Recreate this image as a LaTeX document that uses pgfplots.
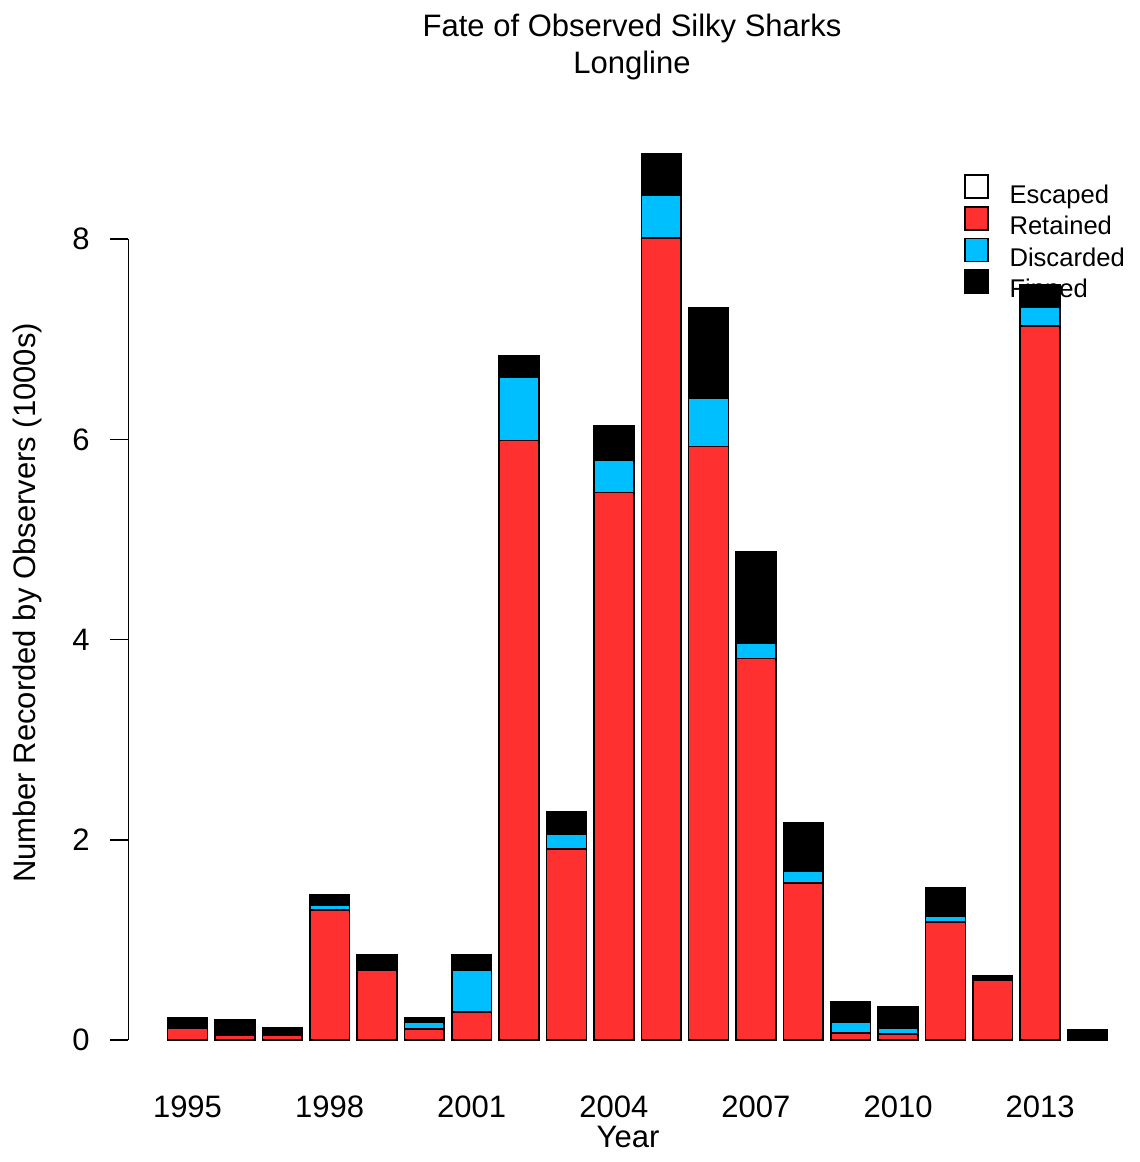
\documentclass[border=0pt]{standalone}
\usepackage{pgfplots}
\pgfplotsset{compat=1.18}
\usepackage{pgfplotstable}
\usepackage{fontspec}
\setmainfont{Liberation Sans}
\definecolor{ret}{HTML}{FF3030}
\definecolor{dis}{HTML}{00BFFF}
\pgfplotsset{
  layers/legendbehind/.define layer set={axis background,axis grid,axis ticks,axis lines,axis tick labels,axis descriptions,pre main,main,axis foreground}{},
}
\pgfplotstableread{
year ret dis fin
1995 0.12 0.00 0.10
1996 0.05 0.00 0.15
1997 0.05 0.00 0.07
1998 1.30 0.05 0.10
1999 0.70 0.00 0.15
2000 0.11 0.07 0.04
2001 0.28 0.42 0.15
2002 5.99 0.63 0.21
2003 1.91 0.15 0.22
2004 5.47 0.32 0.35
2005 8.01 0.43 0.41
2006 5.93 0.48 0.90
2007 3.81 0.15 0.92
2008 1.57 0.12 0.48
2009 0.07 0.11 0.20
2010 0.06 0.06 0.21
2011 1.18 0.06 0.28
2012 0.60 0.00 0.04
2013 7.13 0.19 0.22
2014 0.00 0.00 0.10
}\data
\begin{document}
\begin{tikzpicture}
\begin{axis}[
  set layers=legendbehind,
  scale only axis, width=506pt, height=478pt,
  xmin=1993.744, xmax=2015.108, ymin=-0.35, ymax=9.2,
  ybar stacked, bar width=0.84,
  axis line style={draw=none},
  xtick={1995,1998,2001,2004,2007,2010,2013},
  ytick={0,2,4,6,8},
  ytick pos=left, xtick pos=bottom,
  tick align=outside,
  major tick length=9pt,
  x tick style={draw=none},
  y tick style={black, line width=0.8pt},
  tick label style={font=\fontsize{15.5}{18}\selectfont},
  /pgf/number format/assume math mode=true,
  /pgf/number format/1000 sep={},
  xticklabel style={anchor=base, inner sep=0pt, yshift=-12pt},
  yticklabel style={anchor=east, inner sep=0pt, xshift=-10pt},
  legend style={at={(0.826,0.942)}, anchor=north west, draw=none, fill=none,
    inner sep=0pt, outer sep=0pt, row sep=-2pt,
    font=\fontsize{12.8}{15}\selectfont, cells={anchor=west},
    /tikz/every odd column/.append style={column sep=8.5pt}},
]
\addlegendimage{legend image code/.code={\draw[fill=white, draw=black, line width=0.8pt] (0pt,-1.5pt) rectangle (11.5pt,10pt);}}
\addlegendentry{Escaped}
\addlegendimage{legend image code/.code={\draw[fill=ret, draw=black, line width=0.8pt] (0pt,-1.5pt) rectangle (11.5pt,10pt);}}
\addlegendentry{Retained}
\addlegendimage{legend image code/.code={\draw[fill=dis, draw=black, line width=0.8pt] (0pt,-1.5pt) rectangle (11.5pt,10pt);}}
\addlegendentry{Discarded}
\addlegendimage{legend image code/.code={\draw[fill=black, draw=black, line width=0.8pt] (0pt,-1.5pt) rectangle (11.5pt,10pt);}}
\addlegendentry{Finned}
\addplot[fill=ret, draw=black, line width=0.8pt, forget plot] table[x=year, y=ret]{\data};
\addplot[fill=dis, draw=black, line width=0.8pt, forget plot] table[x=year, y=dis]{\data};
\addplot[fill=black, draw=black, line width=0.8pt, forget plot] table[x=year, y=fin]{\data};
\draw[line width=0.8pt] (axis cs:1993.744,0) -- (axis cs:1993.744,8);
\end{axis}
\node[anchor=base, inner sep=0pt, font=\fontsize{15.5}{18}\selectfont] at (252pt,519pt) {Fate of Observed Silky Sharks};
\node[anchor=base, inner sep=0pt, font=\fontsize{15.5}{18}\selectfont] at (252pt,500.5pt) {Longline};
\node[anchor=base, inner sep=0pt, font=\fontsize{15.5}{18}\selectfont] at (250pt,-36pt) {Year};
\node[anchor=base, rotate=90, inner sep=0pt, font=\fontsize{15.5}{18}\selectfont] at (-46pt,236pt) {Number Recorded by Observers (1000s)};
\pgfresetboundingbox
\path[use as bounding box] (-64pt,-43.5pt) rectangle (506pt,537.5pt);
\end{tikzpicture}
\end{document}
